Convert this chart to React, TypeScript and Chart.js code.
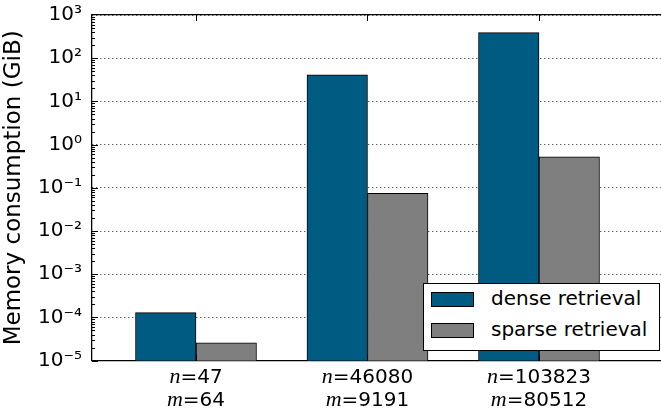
import React, { useEffect, useRef } from "react";
import { Chart, registerables } from "chart.js";

Chart.register(...registerables);

const categories = [0, 1, 2];
const nLabels = ["47", "46080", "103823"];
const mLabels = ["64", "9191", "80512"];
const seriesNames = ["dense retrieval", "sparse retrieval"];
const denseValues = [1.3e-4, 41, 390];
const sparseValues = [2.6e-5, 0.075, 0.52];
const seriesColors = ["rgb(0,91,130)", "rgb(127,127,127)"];
const yTickExponents = [-5, -4, -3, -2, -1, 0, 1, 2, 3];
const yAxisTitle = "Memory consumption (GiB)";

const SUP: Record<string, string> = {
  "-": "\u207B", "0": "\u2070", "1": "\u00B9", "2": "\u00B2", "3": "\u00B3",
  "4": "\u2074", "5": "\u2075", "6": "\u2076", "7": "\u2077", "8": "\u2078", "9": "\u2079",
};
const sup = (n: number) => String(n).split("").map((c) => SUP[c]).join("");

const SANS = "'DejaVu Sans', sans-serif";

const noPad = (s: any) => {
  s.paddingTop = 0;
  s.paddingBottom = 0;
  s.paddingLeft = 0;
  s.paddingRight = 0;
};

const inwardTicks = {
  id: "inwardTicks",
  afterDraw(chart: any) {
    const { ctx, chartArea } = chart;
    const y = chart.scales.y;
    const x = chart.scales.x;
    ctx.save();
    ctx.strokeStyle = "#000";
    ctx.lineWidth = 1;
    ctx.beginPath();
    for (let e = -5; e < 3; e++) {
      for (let s = 1; s <= 9; s++) {
        const v = s * Math.pow(10, e);
        const py = Math.round(y.getPixelForValue(v)) + 0.5;
        const len = s === 1 ? 6 : 3;
        ctx.moveTo(chartArea.left, py);
        ctx.lineTo(chartArea.left + len, py);
      }
    }
    categories.forEach((c) => {
      const px = Math.round(x.getPixelForValue(c)) + 0.5;
      ctx.moveTo(px, chartArea.top);
      ctx.lineTo(px, chartArea.top + 6);
      ctx.moveTo(px, chartArea.bottom);
      ctx.lineTo(px, chartArea.bottom - 6);
    });
    ctx.stroke();

    // x tick labels: italic math variable + sans value
    ctx.fillStyle = "#000";
    ctx.textBaseline = "alphabetic";
    categories.forEach((c, i) => {
      const px = x.getPixelForValue(c);
      const lines = [
        ["n", "=" + nLabels[i]],
        ["m", "=" + mLabels[i]],
      ];
      lines.forEach(([v, rest], li) => {
        const base = chartArea.bottom + 22 + li * 23.5;
        ctx.font = `italic 22px 'Liberation Serif', serif`;
        const w1 = ctx.measureText(v).width;
        ctx.font = `20px ${SANS}`;
        const w2 = ctx.measureText(rest).width;
        const start = px - (w1 + w2) / 2;
        ctx.font = `italic 22px 'Liberation Serif', serif`;
        ctx.textAlign = "left";
        ctx.fillText(v, start, base);
        ctx.font = `20px ${SANS}`;
        ctx.fillText(rest, start + w1, base);
      });
    });
    ctx.restore();
  },
};

export default function App() {
  const ref = useRef<HTMLCanvasElement | null>(null);

  useEffect(() => {
    if (!ref.current) return;
    const values = [denseValues, sparseValues];
    const chart = new Chart(ref.current, {
      type: "bar",
      data: {
        datasets: seriesNames.map((name, k) => ({
          label: name,
          data: categories.map((c, i) => ({ x: c, y: values[k][i] })),
          backgroundColor: seriesColors[k],
          borderColor: "#000",
          borderWidth: 1,
          barThickness: 60.5,
        })),
      },
      options: {
        animation: false,
        responsive: false,
        devicePixelRatio: 1,
        layout: { padding: 0 },
        plugins: { legend: { display: false }, tooltip: { enabled: false } },
        scales: {
          x: {
            type: "linear",
            position: "bottom",
            offset: false,
            min: -0.6064,
            max: 2.7114,
            afterBuildTicks: (s: any) => {
              s.ticks = categories.map((c) => ({ value: c }));
            },
            afterFit: (s: any) => {
              s.height = 53.3;
              noPad(s);
            },
            ticks: { display: false },
            grid: { display: false, drawTicks: false, offset: false },
            border: { display: true, color: "#000", width: 1.3 },
          },
          x2: {
            type: "linear",
            position: "top",
            offset: false,
            min: -0.6064,
            max: 2.7114,
            afterFit: (s: any) => {
              s.height = 15;
              noPad(s);
            },
            ticks: { display: false },
            grid: { display: false, drawTicks: false },
            border: { display: true, color: "#000", width: 1.3 },
          },
          y: {
            type: "logarithmic",
            min: 1e-5,
            max: 1e3,
            afterBuildTicks: (s: any) => {
              s.ticks = yTickExponents.map((e) => ({ value: Math.pow(10, e), major: true }));
            },
            afterFit: (s: any) => {
              s.width = 92;
              noPad(s);
            },
            ticks: {
              autoSkip: false,
              padding: 10,
              color: "#000",
              font: { family: SANS, size: 20 },
              callback: (v: any) => "10" + sup(Math.round(Math.log10(Number(v)))),
            },
            grid: {
              display: true,
              drawTicks: false,
              color: "#222",
              lineWidth: 1,
            },
            border: { display: true, color: "#000", width: 1.3, dash: [1, 3] },
            title: {
              display: true,
              text: yAxisTitle,
              color: "#000",
              font: { family: SANS, size: 23 },
              padding: { top: 0, bottom: 4 },
            },
          },
        },
      },
      plugins: [inwardTicks],
    } as any);
    return () => chart.destroy();
  }, []);

  return (
    <div style={{ position: "fixed", left: 0, top: 0, width: 661, height: 414, background: "#fff" }}>
      <canvas ref={ref} width={661} height={414} />
      <div
        style={{
          position: "absolute",
          left: 423,
          top: 283,
          width: 235,
          height: 66,
          border: "1px solid #000",
          background: "#fff",
          fontFamily: SANS,
          fontSize: 20,
          color: "#000",
        }}
      >
        {seriesNames.map((name, k) => (
          <div key={name} style={{ position: "absolute", left: 0, top: k * 31, height: 31, width: 235 }}>
            <div
              style={{
                position: "absolute",
                left: 7,
                top: 8,
                width: 41,
                height: 13,
                border: "1px solid #000",
                background: seriesColors[k],
              }}
            />
            <div style={{ position: "absolute", left: 67, top: 2, lineHeight: "24px", whiteSpace: "nowrap" }}>
              {name}
            </div>
          </div>
        ))}
      </div>
    </div>
  );
}
